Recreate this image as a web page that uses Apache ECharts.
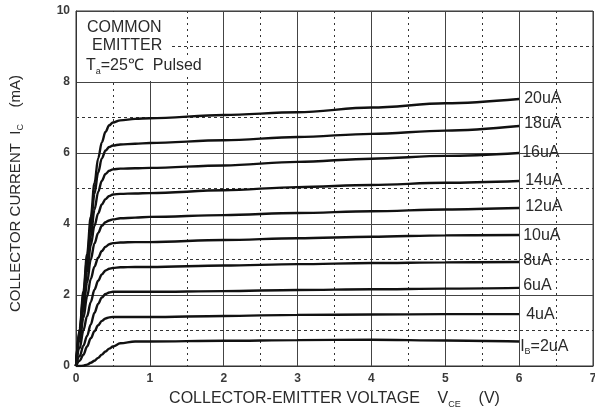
<!DOCTYPE html>
<html>
<head>
<meta charset="utf-8">
<script src="https://cdn.jsdelivr.net/npm/echarts@6/dist/echarts.min.js"></script>
<style>
  html, body { margin: 0; padding: 0; background: #fff; }
  #chart { width: 595px; height: 412px; }
</style>
</head>
<body>
<div id="chart"></div>
<script>
// V_CE sample points (V)
const vce = [0, 0.05, 0.1, 0.15, 0.2, 0.25, 0.3, 0.35, 0.4, 0.45, 0.5, 0.6, 0.8, 1, 2, 3, 4, 5, 6];

// I_C (mA) for each base current
const ib20 = [0, 1.05, 2.1, 3.15, 4.2, 5.15, 5.85, 6.3, 6.6, 6.78, 6.86, 6.92, 6.96, 6.98, 7.07, 7.15, 7.28, 7.4, 7.52];
const ib18 = [0, 1.0, 2.0, 3.0, 3.95, 4.85, 5.45, 5.85, 6.07, 6.17, 6.21, 6.24, 6.26, 6.28, 6.36, 6.45, 6.54, 6.63, 6.76];
const ib16 = [0, 0.95, 1.9, 2.85, 3.65, 4.4, 4.9, 5.22, 5.41, 5.5, 5.54, 5.56, 5.57, 5.58, 5.65, 5.75, 5.84, 5.92, 6.0];
const ib14 = [0, 0.9, 1.8, 2.65, 3.4, 3.95, 4.3, 4.55, 4.7, 4.79, 4.83, 4.85, 4.86, 4.87, 4.95, 5.04, 5.1, 5.16, 5.21];
const ib12 = [0, 0.8, 1.6, 2.35, 3.0, 3.45, 3.75, 3.95, 4.05, 4.1, 4.13, 4.16, 4.18, 4.2, 4.25, 4.31, 4.36, 4.41, 4.45];
const ib10 = [0, 0.7, 1.35, 1.95, 2.45, 2.8, 3.05, 3.24, 3.36, 3.43, 3.46, 3.48, 3.49, 3.49, 3.55, 3.6, 3.64, 3.68, 3.69];
const ib8 = [0, 0.5, 1.0, 1.4, 1.8, 2.15, 2.4, 2.58, 2.69, 2.74, 2.76, 2.78, 2.79, 2.79, 2.83, 2.87, 2.9, 2.92, 2.93];
const ib6 = [0, 0.28, 0.57, 0.85, 1.17, 1.5, 1.75, 1.93, 2.03, 2.07, 2.09, 2.09, 2.09, 2.09, 2.11, 2.14, 2.16, 2.18, 2.2];
const ib4 = [0, 0.15, 0.32, 0.55, 0.78, 0.98, 1.15, 1.27, 1.34, 1.37, 1.38, 1.38, 1.38, 1.38, 1.41, 1.44, 1.45, 1.46, 1.46];
const ib2 = [0, 0.0, 0.01, 0.04, 0.09, 0.15, 0.23, 0.32, 0.41, 0.49, 0.55, 0.64, 0.69, 0.69, 0.71, 0.73, 0.74, 0.72, 0.69];

const curveNames = ["20uA", "18uA", "16uA", "14uA", "12uA", "10uA", "8uA", "6uA", "4uA", "{t|I}{s|B}{t|=2uA}"];
const curveData = [ib20, ib18, ib16, ib14, ib12, ib10, ib8, ib6, ib4, ib2];
const labelShift = [0, -2, 0, 0, -1, 1, -1, -2, 0, 5];
const labelGap = [5, 5, 3, 6, 6, 4, 4, 4, 7, 1];

let chart = echarts.init(document.getElementById("chart"));

const txt = "#2a2a2a";
const font = "Liberation Sans";

let series = curveData.map((arr, i) => {
  return {
    name: curveNames[i],
    type: "line",
    data: vce.map((v, k) => [v, arr[k]]),
    smooth: 0.35,
    smoothMonotone: "x",
    showSymbol: false,
    lineStyle: { color: "#111", width: 2.4 },
    z: 3,
    endLabel: {
      show: true,
      formatter: curveNames[i],
      color: txt,
      fontFamily: font,
      fontSize: 16,
      distance: labelGap[i],
      offset: [0, labelShift[i]],
      rich: {
        t: { color: txt, fontFamily: font, fontSize: 16 },
        s: { color: txt, fontFamily: font, fontSize: 9, padding: [11, 0, 0, 0] },
      },
    },
  };
});

let option = {
  animation: false,
  backgroundColor: "#fff",
  grid: {
    left: 76,
    top: 11,
    right: 2,
    bottom: 46,
    show: true,
    borderColor: "#333",
    borderWidth: 1,
    containLabel: false,
    outerBoundsMode: "none",
  },
  xAxis: {
    type: "value",
    min: 0,
    max: 7,
    interval: 1,
    name: "COLLECTOR-EMITTER VOLTAGE    V{s|CE}    (V)",
    nameLocation: "middle",
    nameGap: 23,
    nameTextStyle: {
      color: txt,
      fontFamily: font,
      fontSize: 16,
      rich: {
        s: { color: txt, fontFamily: font, fontSize: 9, padding: [11, 0, 0, 0] },
      },
    },
    axisLine: { show: true, lineStyle: { color: "#333" } },
    axisTick: { show: false },
    axisLabel: { color: "#3a3a3a", fontFamily: font, fontSize: 12, fontWeight: "bold", margin: 7 },
    splitLine: { show: true, lineStyle: { color: "#444", width: 1 } },
    minorTick: { show: false, splitNumber: 2 },
    minorSplitLine: { show: true, lineStyle: { color: "#333", type: [2, 4], width: 1 } },
  },
  yAxis: {
    type: "value",
    min: 0,
    max: 10,
    interval: 2,
    name: "COLLECTOR CURRENT  I{s|C}    {e|(mA)}",
    nameLocation: "middle",
    nameGap: 51,
    nameRotate: 90,
    nameTextStyle: {
      color: txt,
      fontFamily: font,
      fontSize: 15,
      rich: {
        s: { color: txt, fontFamily: font, fontSize: 9, padding: [10, 0, 0, 0] },
        e: { color: txt, fontFamily: font, fontSize: 15, padding: [0, 10, 0, 0] },
      },
    },
    axisLine: { show: true, lineStyle: { color: "#333" } },
    axisTick: { show: false },
    axisLabel: { color: "#3a3a3a", fontFamily: font, fontSize: 12, fontWeight: "bold", margin: 6 },
    splitLine: { show: true, lineStyle: { color: "#444", width: 1 } },
    minorTick: { show: false, splitNumber: 2 },
    minorSplitLine: { show: true, lineStyle: { color: "#333", type: [3, 3], width: 1 } },
  },
  graphic: [
    {
      type: "rect",
      z: 50,
      shape: { x: 77, y: 12, width: 95, height: 69 },
      style: { fill: "#fff" },
    },
    {
      type: "text",
      z: 51,
      left: 87,
      top: 20,
      style: { text: "COMMON", fill: txt, font: "16px 'Liberation Sans'" },
    },
    {
      type: "text",
      z: 51,
      left: 92,
      top: 38,
      style: { text: "EMITTER", fill: txt, font: "16px 'Liberation Sans'" },
    },
    {
      type: "text",
      z: 51,
      left: 85,
      top: 55,
      style: {
        text: "{t|T}{s|a}{t|=25\u2103  Pulsed}",
        backgroundColor: "#fff",
        padding: [1, 3, 1, 1],
        rich: {
          t: { fill: txt, fontFamily: font, fontSize: 16 },
          s: { fill: txt, fontFamily: font, fontSize: 9, padding: [11, 0, 0, 0] },
        },
      },
    },
  ],
  series: series,
};

chart.setOption(option);
window.addEventListener("resize", () => {
  chart.resize();
});
</script>
</body>
</html>
